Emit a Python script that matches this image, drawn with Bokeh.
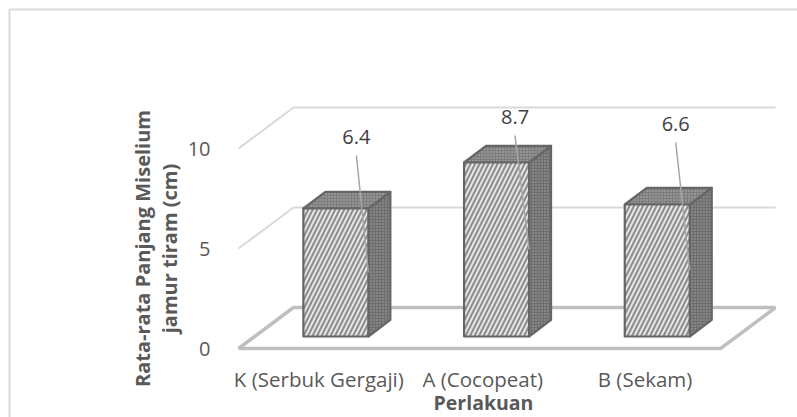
import math
from bokeh.plotting import figure
from bokeh.models import FixedTicker, Range1d, Label
from bokeh.embed import file_html
from bokeh.resources import INLINE

categories = ["K (Serbuk Gergaji)", "A (Cocopeat)", "B (Sekam)"]
values = [6.4, 8.7, 6.6]
value_ticks = [0, 5, 10]
tick_positions = [0.5, 1.52, 2.53]
label_lift = [2.65, 1.35, 3.1]      # leader start above bar top, value units
label_shift = [0.128, 0.115, 0.115]  # leader start, category units from bar centre
title_lines = ["Rata-rata Panjang Miselium", "jamur tiram (cm)"]
cat_title = "Perlakuan"

PX_X = 160.7          # px per category
PX_Y = 20.0           # px per value unit
DEPTH_X, DEPTH_Y = 55 / PX_X, 41 / PX_Y     # floor depth
BAR_OFF_X, BAR_OFF_Y = 17 / PX_X, 12 / PX_Y  # bar front relative to front plane
BAR_W = 65 / PX_X
BAR_DX, BAR_DY = 22 / PX_X, 16.7 / PX_Y

FONT = "Open Sans"
TXT = "#595959"

W, H = 797, 417
ORIGIN_X, ORIGIN_Y = 238, 348   # where category 0 / value 0 of the front plane sits

p = figure(width=W, height=H, output_backend="svg", toolbar_location=None,
           x_range=Range1d(-ORIGIN_X / PX_X, (W - ORIGIN_X) / PX_X),
           y_range=Range1d((ORIGIN_Y - H) / PX_Y, ORIGIN_Y / PX_Y),
           min_border_left=0, min_border_right=0, min_border_top=0, min_border_bottom=0)
p.frame_width = W
p.frame_height = H
p.outline_line_color = None
p.border_fill_color = "white"
p.background_fill_color = "white"
p.grid.visible = False

p.yaxis.fixed_location = 0
p.yaxis.ticker = FixedTicker(ticks=value_ticks)
p.yaxis.axis_line_color = None
p.yaxis.major_tick_line_color = None
p.yaxis.minor_tick_line_color = None
p.yaxis.major_label_standoff = 22
p.yaxis.major_label_text_font = FONT
p.yaxis.major_label_text_font_size = "20px"
p.yaxis.major_label_text_color = TXT

p.xaxis.fixed_location = 0
p.xaxis.ticker = FixedTicker(ticks=tick_positions)
p.xaxis.major_label_overrides = dict(zip(tick_positions, categories))
p.xaxis.axis_line_color = None
p.xaxis.major_tick_line_color = None
p.xaxis.minor_tick_line_color = None
p.xaxis.major_label_standoff = 10
p.xaxis.major_label_text_font = FONT
p.xaxis.major_label_text_font_size = "20.5px"
p.xaxis.major_label_text_color = TXT

# chart border: left and top edges only, the right and bottom run off the picture
p.line([(9 - ORIGIN_X) / PX_X, (9 - ORIGIN_X) / PX_X, (W + 5 - ORIGIN_X) / PX_X],
       [(ORIGIN_Y - H - 5) / PX_Y, (ORIGIN_Y - 9) / PX_Y, (ORIGIN_Y - 9) / PX_Y],
       line_color="#d9d9d9", line_width=2)

for text, px in zip(title_lines, [-96, -69]):
    p.add_layout(Label(x=px / PX_X, y=5, text=text, angle=math.pi / 2,
                       text_align="center", text_baseline="middle",
                       text_font=FONT, text_font_size="20px",
                       text_font_style="bold", text_color=TXT))
p.add_layout(Label(x=245 / PX_X, y=-54 / PX_Y, text=cat_title, text_align="center",
                   text_baseline="middle", text_font=FONT, text_font_size="19.5px",
                   text_font_style="bold", text_color=TXT))

n = len(categories)
for v in value_ticks:
    wid = 3.5 if v == 0 else 2
    col = "#bfbfbf" if v == 0 else "#d9d9d9"
    p.line([0, DEPTH_X, n + DEPTH_X], [v, v + DEPTH_Y, v + DEPTH_Y], line_color=col, line_width=wid)
p.line([n + DEPTH_X, n, 0], [DEPTH_Y, 0, 0], line_color="#bfbfbf", line_width=3.5)

for i, v in enumerate(values):
    x0 = i + 0.5 + BAR_OFF_X - BAR_W / 2
    x1 = x0 + BAR_W
    y0 = BAR_OFF_Y
    y1 = y0 + v
    edge = dict(line_color="#666666", line_width=2.2, line_join="round")
    p.patch([x1, x1 + BAR_DX, x1 + BAR_DX, x1], [y0, y0 + BAR_DY, y1 + BAR_DY, y1],
            fill_color="#6e6e6e", hatch_pattern="dot", hatch_color="#a8a8a8",
            hatch_scale=3, hatch_weight=1, **edge)
    p.patch([x0, x0 + BAR_DX, x1 + BAR_DX, x1], [y1, y1 + BAR_DY, y1 + BAR_DY, y1],
            fill_color="#7d7d7d", hatch_pattern="dot", hatch_color="#b8b8b8",
            hatch_scale=3, hatch_weight=1, **edge)
    p.quad(left=x0, right=x1, bottom=y0, top=y1, fill_color="#e6e6e6",
           hatch_pattern="right_diagonal_line", hatch_color="#8c8c8c",
           hatch_scale=9, hatch_weight=2, **edge)
    lx = i + 0.5 + BAR_OFF_X + label_shift[i]
    ly = y1 + label_lift[i]
    p.line([lx, x1], [ly, y0 + v / 2], line_color="#a6a6a6", line_width=1.5)
    p.add_layout(Label(x=lx, y=ly + 18.5 / PX_Y, text=f"{v:.1f}", text_align="center",
                       text_baseline="middle", text_font=FONT, text_font_size="20px",
                       text_color="#404040"))

open("out.html", "w").write(file_html(p, INLINE))
